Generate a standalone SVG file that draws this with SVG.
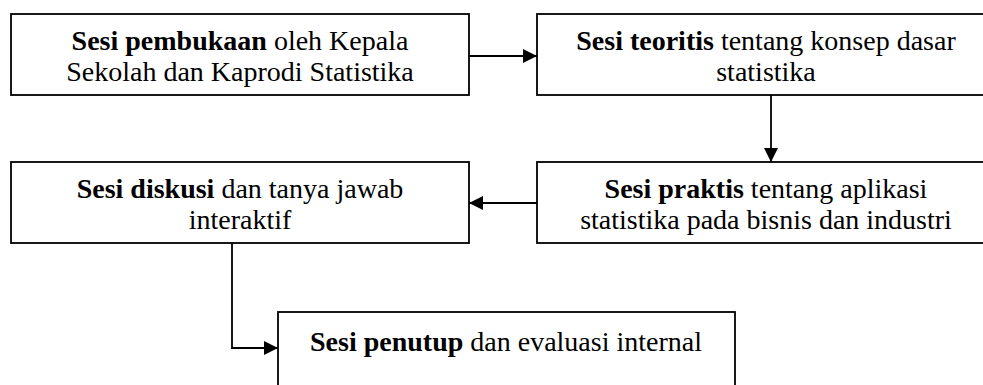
<svg xmlns="http://www.w3.org/2000/svg" width="983" height="385" viewBox="0 0 983 385">
<style>
.box{fill:#fff;stroke:#000;stroke-width:1.8}
.t{font-family:"Liberation Serif","DejaVu Serif",serif;font-size:28px;fill:#000;text-anchor:middle}
.b{font-weight:bold}
.c{fill:none;stroke:#000;stroke-width:1.8}
</style>
<defs>
<marker id="ah" markerWidth="14" markerHeight="14" viewBox="0 0 14 14" refX="14" refY="7" orient="auto" markerUnits="userSpaceOnUse">
<path d="M0,0 L14,7 L0,14 Z" fill="#000"/>
</marker>
</defs>
<rect width="983" height="385" fill="#fff"/>
<g id="n1">
<rect class="box" x="11" y="14" width="458" height="81"/>
<text class="t" x="240" y="50"><tspan class="b">Sesi pembukaan</tspan> oleh Kepala</text>
<text class="t" x="240" y="81">Sekolah dan Kaprodi Statistika</text>
</g>
<g id="n2">
<rect class="box" x="537" y="14" width="460" height="81"/>
<text class="t" x="766" y="50"><tspan class="b">Sesi teoritis</tspan> tentang konsep dasar</text>
<text class="t" x="766" y="81">statistika</text>
</g>
<g id="n3">
<rect class="box" x="537" y="162" width="460" height="81"/>
<text class="t" x="766" y="198"><tspan class="b">Sesi praktis</tspan> tentang aplikasi</text>
<text class="t" x="766" y="229">statistika pada bisnis dan industri</text>
</g>
<g id="n4">
<rect class="box" x="11" y="162" width="458" height="81"/>
<text class="t" x="240" y="198"><tspan class="b">Sesi diskusi</tspan> dan tanya jawab</text>
<text class="t" x="240" y="229">interaktif</text>
</g>
<g id="n5">
<rect class="box" x="278" y="312" width="457" height="90"/>
<text class="t" x="506" y="351"><tspan class="b">Sesi penutup</tspan> dan evaluasi internal</text>
</g>
<g id="connectors">
<path class="c" d="M469,56 H537" marker-end="url(#ah)"/>
<path class="c" d="M771,95 V162" marker-end="url(#ah)"/>
<path class="c" d="M537,203 H469" marker-end="url(#ah)"/>
<path class="c" d="M232,243 V348 H278" marker-end="url(#ah)"/>
</g>
</svg>
